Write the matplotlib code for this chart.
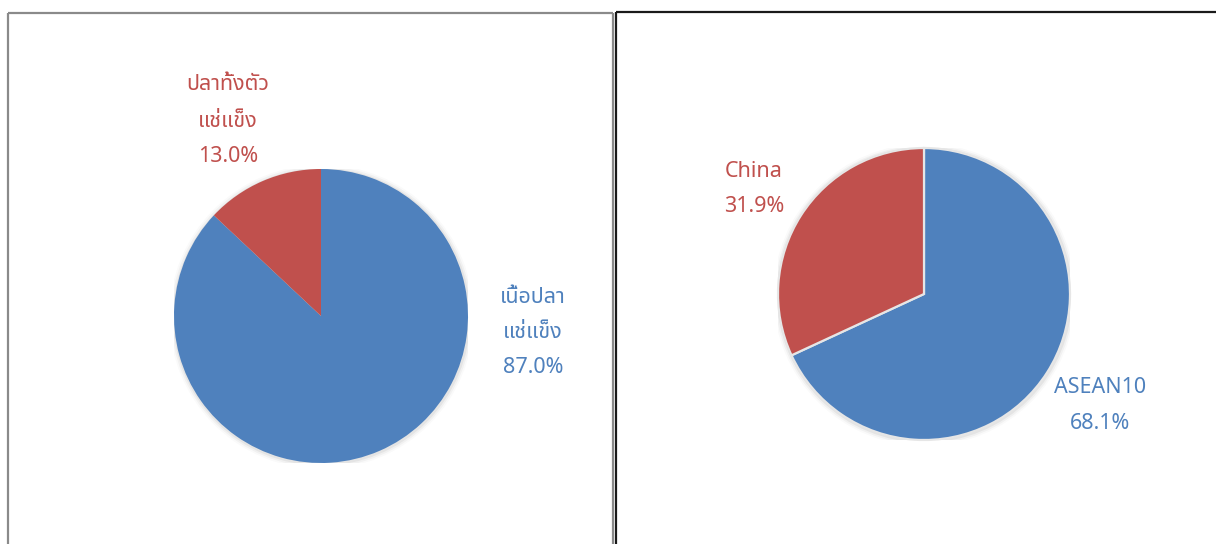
import matplotlib
matplotlib.use("Agg")
import matplotlib.pyplot as plt
from matplotlib.lines import Line2D
from matplotlib.patches import Circle

W, H = 1216, 544
DPI = 100

# ---- data ----
left_labels = ["เนื้อปลา\nแช่แข็ง", "ปลาทั้งตัว\nแช่แข็ง"]
left_values = [87.0, 13.0]
right_labels = ["ASEAN10", "China"]
right_values = [68.1, 31.9]
colors = ["#4F81BD", "#C0504D"]

FONT = ["Noto Sans Thai", "DejaVu Sans"]
FS = 15.5

fig = plt.figure(figsize=(W / DPI, H / DPI), dpi=DPI)
fig.patch.set_facecolor("white")


def px_axes(cx, cy, r):
    # cx, cy in pixel coords from top-left
    return fig.add_axes([(cx - r) / W, (H - cy - r) / H, 2 * r / W, 2 * r / H])


def draw_pie(ax, values, edge, lw):
    for k, a in enumerate([0.05, 0.035, 0.02]):
        ax.add_patch(Circle((0.004, -0.006), 1.0 + 0.012 * (k + 1), color="black",
                            alpha=a, lw=0, zorder=0))
    wedges, _ = ax.pie(values, colors=colors, startangle=90, counterclock=False, radius=1,
                       wedgeprops=dict(edgecolor=edge, linewidth=lw))
    for w in wedges:
        w.set_zorder(2)
    ax.set_xlim(-1, 1)
    ax.set_ylim(-1, 1)
    ax.set_aspect("equal")
    ax.axis("off")


def put_label(ax, x, ys, lines, color):
    for y, t in zip(ys, lines):
        ax.text(x, y, t, ha="center", va="center", color=color, fontsize=FS,
                family=FONT, clip_on=False)


# left pie
axL = px_axes(321, 316, 147)
draw_pie(axL, left_values, "none", 0)
put_label(axL, 1.442, [0.129, -0.109, -0.347],
          left_labels[0].split("\n") + [f"{left_values[0]:.1f}%"], colors[0])
put_label(axL, -0.633, [1.578, 1.320, 1.082],
          left_labels[1].split("\n") + [f"{left_values[1]:.1f}%"], colors[1])

# right pie
axR = px_axes(924, 294, 146)
draw_pie(axR, right_values, "#E6E6E6", 1.6)
put_label(axR, 1.205, [-0.637, -0.884],
          [right_labels[0], f"{right_values[0]:.1f}%"], colors[0])
put_label(axR, -1.164, [0.836, 0.596],
          [right_labels[1], f"{right_values[1]:.1f}%"], colors[1])

# panel borders (pixel coords)
def fl(xs, ys, c, lw):
    fig.add_artist(Line2D([x / W for x in xs], [1 - y / H for y in ys],
                          color=c, lw=lw, transform=fig.transFigure, solid_capstyle="butt"))

fl([7.5, 7.5], [12.5, H + 2], "#8A8A8A", 1.6)
fl([7.5, 612.5], [12.5, 12.5], "#8A8A8A", 1.6)
fl([612.5, 612.5], [12.5, H + 2], "#8A8A8A", 1.6)
fl([616, 616], [12, H + 2], "#1A1A1A", 1.6)
fl([616, W + 2], [12, 12], "#1A1A1A", 1.6)

fig.savefig("out.png", dpi=DPI)
